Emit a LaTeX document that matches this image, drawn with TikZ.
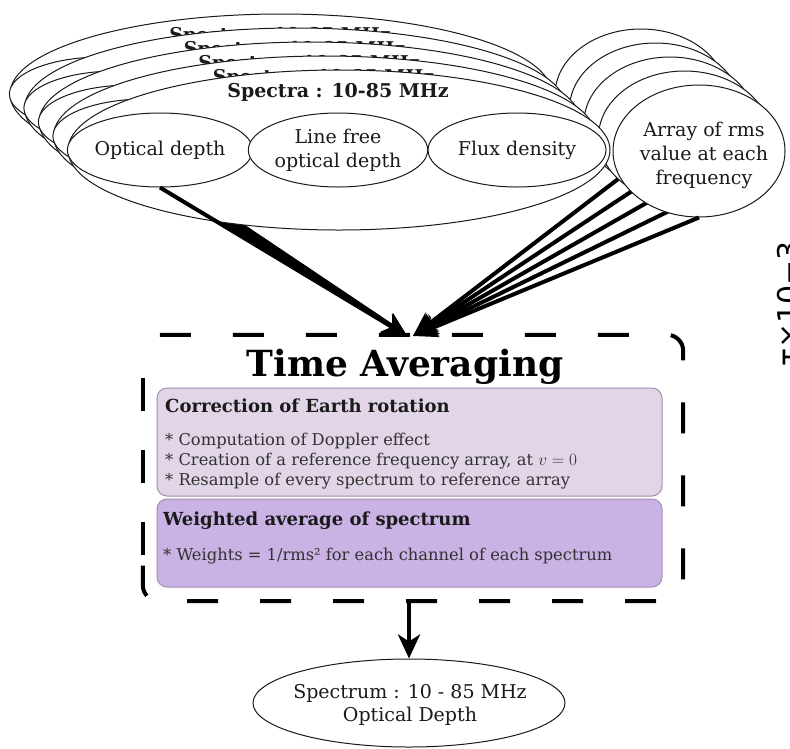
\documentclass[tikz,border=0pt]{standalone}
\usepackage{fontspec}
\setmainfont{DejaVu Serif}
\newfontfamily\dvsans{DejaVu Sans}
\usetikzlibrary{shapes.geometric,arrows.meta}
\definecolor{pfillA}{HTML}{E1D5E7}
\definecolor{pfillB}{HTML}{CBB2E5}
\definecolor{pline}{HTML}{A58DB5}
\definecolor{ink}{HTML}{1A1A1A}
\begin{document}
\begin{tikzpicture}[x=1pt,y=-1pt,
  bigell/.style={ellipse,draw=ink,fill=white,line width=1pt,minimum width=542pt,minimum height=160pt,inner sep=0pt},
  subell/.style={ellipse,draw=ink,fill=white,line width=1pt,minimum width=178pt,minimum height=74pt,inner sep=0pt,align=center,font=\fontsize{19}{24}\selectfont,text=ink},
  rmsell/.style={ellipse,draw=ink,fill=white,line width=1pt,minimum width=172pt,minimum height=132pt,inner sep=0pt},
  rmstext/.style={align=center,font=\fontsize{19}{24}\selectfont,inner sep=0pt,text=ink},
  spectitle/.style={font=\bfseries\fontsize{19}{22}\selectfont,inner sep=0pt,text=ink},
  bigarrow/.style={line width=4pt,draw=black,-{Stealth[length=24pt,width=22pt,inset=7pt]}},
  dashbox/.style={line width=4pt,draw=black,rounded corners=16pt},
  pbox/.style={rectangle,rounded corners=10pt,draw=pline,line width=1pt,minimum width=505pt,inner sep=0pt},
  boxtitle/.style={anchor=base west,inner sep=0pt,font=\bfseries\fontsize{18}{21}\selectfont,text=ink},
  bullet/.style={anchor=base west,inner sep=0pt,font=\fontsize{16.3}{19}\selectfont,text=ink!90}
]
\useasboundingbox (0,0) rectangle (790,748);
\fill[white] (0,0) rectangle (790,748);
\coordinate (inA) at (407,336);
\coordinate (inB) at (413,336);
\foreach \i in {4,3,2,1,0}{
  \begin{scope}[shift={(-14.5*\i,-14*\i)}]
    \node[bigell] (big\i) at (339,150) {};
    \node[spectitle] (ttl\i) at (338,92) {Spectra : 10-85 MHz};
    \node[subell] (od\i) at (160,150) {Optical depth};
    \node[subell] (lf\i) at (338,150) {Line free\\optical depth};
    \node[subell] (fd\i) at (517,150) {Flux density};
    \draw[bigarrow] (od\i.south) -- (inA);
    \node[rmsell] (rms\i) at (699,151) {};
    \node[rmstext] (rmst\i) at (704,155) {Array of rms\\value at each\\frequency};
    \draw[bigarrow] (rms\i.south) -- (inB);
  \end{scope}
}
% Time averaging box
\node[minimum width=540pt,minimum height=266pt,inner sep=0pt] (tavg) at (413,468) {};
\draw[dashbox,dash pattern=on 31pt off 42pt]
  ([xshift=17pt]tavg.north west) -- (tavg.north east) -- (tavg.south east)
  -- (tavg.south west) -- ([yshift=38pt]tavg.south west);
\draw[line width=4pt,dash pattern=on 33pt off 39pt]
  ([yshift=46pt]tavg.south west) -- ([yshift=-16pt]tavg.north west);
\node[font=\bfseries\fontsize{36}{42}\selectfont,inner sep=0pt] (tatitle) at (405,367) {Time Averaging};
\node[pbox,fill=pfillA,minimum height=108pt] (corr) at (409.5,442) {};
\node[pbox,fill=pfillB,minimum height=88pt] (wavg) at (409.5,543) {};
\node[boxtitle] (corrt) at (165,412.5) {Correction of Earth rotation};
\node[bullet] (b1) at (165,445) {* Computation of Doppler effect};
\node[bullet] (b2) at (165,465) {* Creation of a reference frequency array, at $v = 0$};
\node[bullet] (b3) at (165,485) {* Resample of every spectrum to reference array};
\node[boxtitle] (wavgt) at (163,525.5) {Weighted average of spectrum};
\node[bullet] (b4) at (163,560) {* Weights = 1/rms² for each channel of each spectrum};
% output
\node[ellipse,draw=ink,fill=white,line width=1pt,minimum width=312pt,minimum height=88pt,inner sep=0pt] (out) at (409,703) {};
\node[align=center,inner sep=0pt,font=\fontsize{19}{23}\selectfont,text=ink] (outt) at (410,705) {Spectrum : 10 - 85 MHz\\Optical Depth};
\draw[bigarrow] (tavg.south -| out.north) -- (out.north);
% clipped axis label
\node[rotate=90,anchor=north west,inner sep=0pt,font=\dvsans\fontsize{30}{36}\selectfont] (taulbl) at (777,367) {τ×10−3};
\end{tikzpicture}
\end{document}
